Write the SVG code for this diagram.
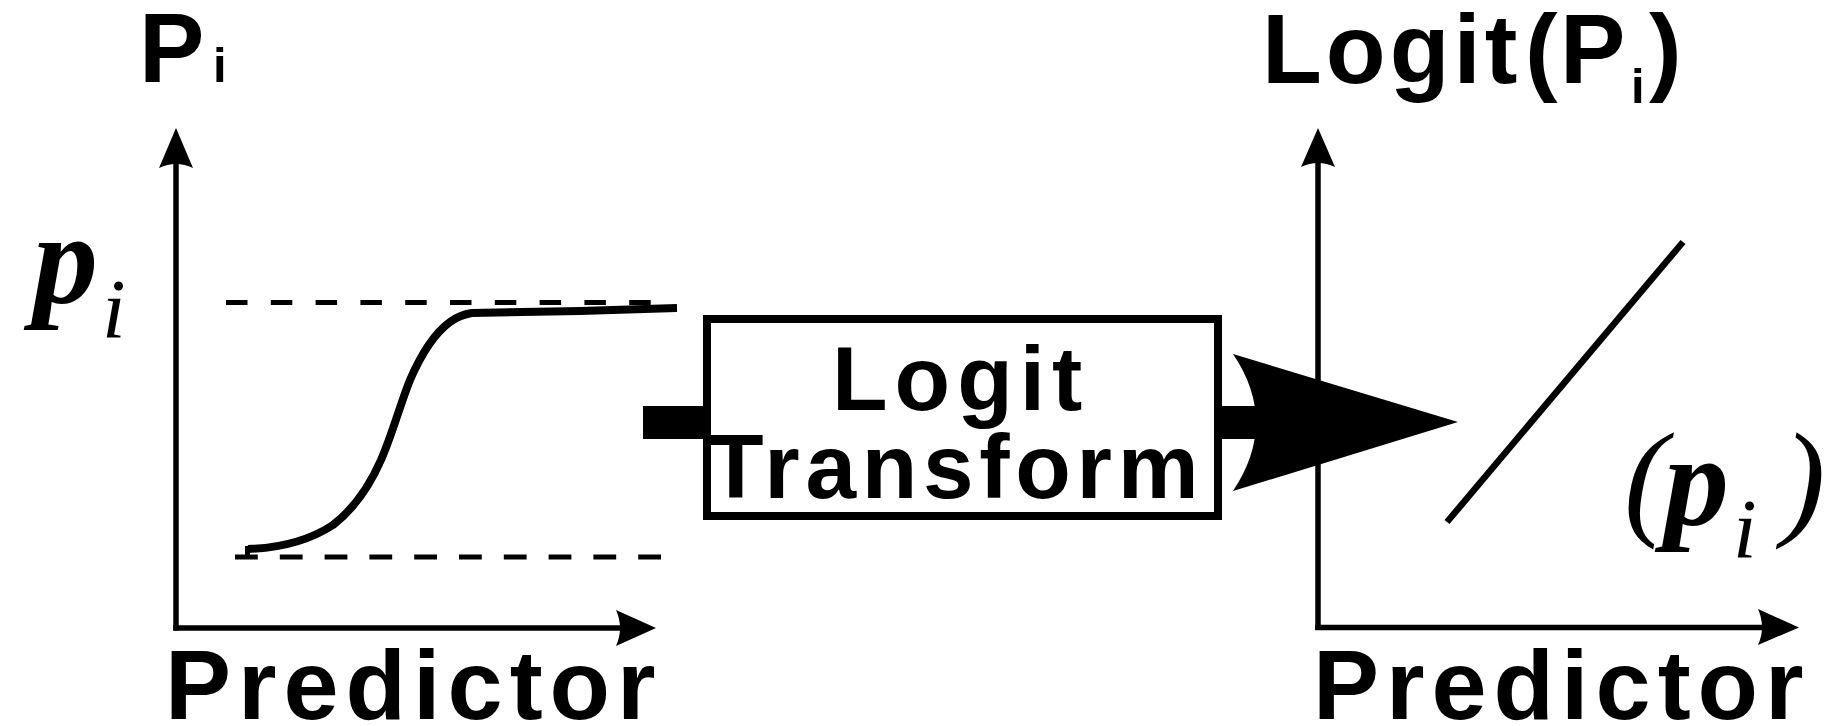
<svg xmlns="http://www.w3.org/2000/svg" width="1832" height="726" viewBox="0 0 1832 726">
<style>
.sans{font-family:"Liberation Sans",Arial,sans-serif;font-weight:bold;fill:#000}
.serif{font-family:"Liberation Serif","Times New Roman",serif;fill:#000}
.axis{stroke:#000;stroke-width:5.5;fill:none}
.dash{stroke:#000;stroke-width:5;fill:none}
.head{fill:#000;stroke:none}
</style>
<rect width="1832" height="726" fill="#fff"/>
<g id="left-chart">
  <line class="axis" x1="176" y1="160" x2="176" y2="630.5"/>
  <line class="axis" x1="173.25" y1="628" x2="625" y2="628"/>
  <path class="head" d="M176,128 L193,168 Q176,160 159,168 Z"/>
  <path class="head" d="M656,628 L616,610 Q624,628 616,646 Z"/>
  <line class="dash" x1="226" y1="302.5" x2="651" y2="302.5" stroke-dasharray="21.5 23.3"/>
  <line class="dash" x1="235" y1="557" x2="661" y2="557" stroke-dasharray="22.8 22"/>
  <path d="M248,549 C280,548 310,540 333,525 C355,508 370,485 381,460 C392,435 400,405 410,380 C420,357 432,335 450,322 C458,316 465,314 472,313 L580,311 L677,308" fill="none" stroke="#000" stroke-width="8"/>
  <rect x="245" y="546" width="5" height="10" fill="#000"/>
  <text class="sans" x="139" y="82" font-size="98">P</text>
  <text class="sans" x="213" y="82" font-size="49">i</text>
  <text class="serif" x="33" y="302" font-size="130" font-weight="bold" font-style="italic">p</text>
  <text class="serif" x="102" y="338" font-size="85" font-style="italic">i</text>
  <text class="sans" x="165" y="719" font-size="99" letter-spacing="7">Predictor</text>
</g>
<g id="transform-box">
  <rect x="707" y="319" width="511" height="197" fill="#fff" stroke="#000" stroke-width="8"/>
  <text class="sans" x="832" y="410" font-size="91" letter-spacing="7">Logit</text>
  <text class="sans" x="708" y="498" font-size="91" letter-spacing="5.7">Transform</text>
</g>
<g id="right-chart">
  <line class="axis" x1="1318" y1="160" x2="1318" y2="630"/>
  <line class="axis" x1="1315.25" y1="627.5" x2="1765" y2="627.5"/>
  <path class="head" d="M1318,128 L1335,167 Q1318,159 1301,167 Z"/>
  <path class="head" d="M1799,627.5 L1758,609 Q1766,627.5 1758,645 Z"/>
  <line x1="1447" y1="522" x2="1683" y2="242" stroke="#000" stroke-width="6.5"/>
  <text class="sans" x="1262" y="83" font-size="98" letter-spacing="4">Logit</text>
  <text class="sans" x="1525" y="83" font-size="98">(</text>
  <text class="sans" x="1560" y="83" font-size="98">P</text>
  <text class="sans" x="1631" y="103" font-size="49">i</text>
  <text class="sans" x="1649" y="83" font-size="98">)</text>
  <text class="serif" x="1624" y="522" font-size="130" font-style="italic">(</text>
  <text class="serif" x="1664" y="524" font-size="130" font-weight="bold" font-style="italic">p</text>
  <text class="serif" x="1733" y="558" font-size="85" font-style="italic">i</text>
  <text class="serif" x="1782" y="522" font-size="130" font-style="italic">)</text>
  <text class="sans" x="1313" y="719" font-size="99" letter-spacing="7">Predictor</text>
</g>
<g id="connectors">
  <rect x="643" y="406" width="60" height="33" fill="#000"/>
  <rect x="1222" y="406" width="40" height="33" fill="#000"/>
  <path class="head" d="M1233,354 Q1279,422 1233,491 L1458,422 Z"/>
</g>
</svg>
